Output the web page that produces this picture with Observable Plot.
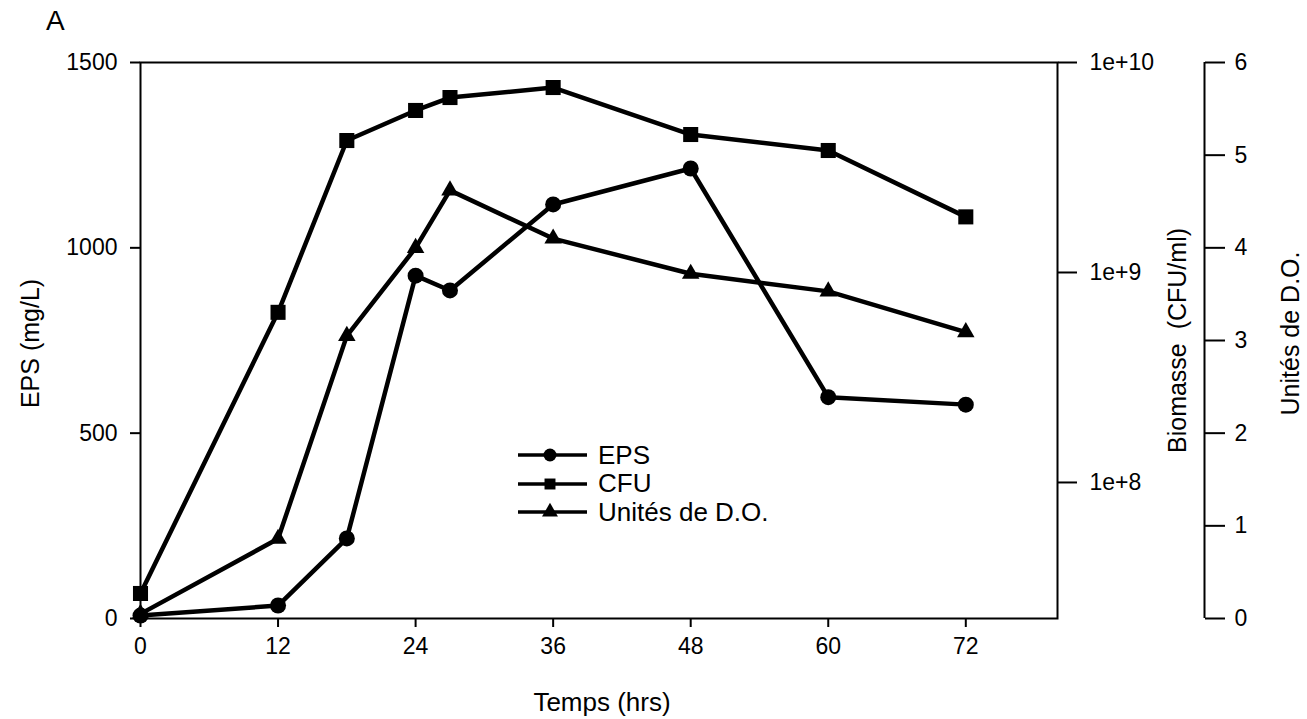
<!DOCTYPE html>
<html><head><meta charset="utf-8">
<script src="https://cdn.jsdelivr.net/npm/d3@7"></script>
<script src="https://cdn.jsdelivr.net/npm/@observablehq/plot@0.6"></script>
<style>
body{margin:0;background:#fff;}
#wrap{position:relative;width:1307px;height:719px;font-family:"Liberation Sans",Arial,Helvetica,sans-serif;color:#000;}
#panel{position:absolute;left:46px;top:5px;font-size:28px;}
#legend{position:absolute;left:518px;top:441px;font-size:26px;}
.row{display:flex;align-items:center;height:28.5px;}
.row span{margin-left:11px;}
</style></head><body><div id="wrap"><div id="panel">A</div><div id="legend"></div></div>
<script>
// ---- data ----
const hours = [0, 12, 18, 24, 27, 36, 48, 60, 72];
const eps   = [8, 35, 216, 925, 885, 1117, 1214, 597, 577];             // mg/L (left axis)
const cfu   = [2.96e7, 6.46e8, 4.25e9, 5.91e9, 6.81e9, 7.6e9, 4.54e9, 3.81e9, 1.84e9]; // CFU/ml (log axis)
const od    = [0.05, 0.86, 3.05, 4.0, 4.62, 4.1, 3.72, 3.53, 3.09];     // D.O. units

const xTicks = [0, 12, 24, 36, 48, 60, 72];
const epsTicks = [0, 500, 1000, 1500];
const cfuTicks = [1e8, 1e9, 1e10];
const cfuTickLabels = ["1e+8", "1e+9", "1e+10"];
const odTicks = [0, 1, 2, 3, 4, 5, 6];

const seriesNames = ["EPS", "CFU", "Unités de D.O."];
const seriesSymbols = ["circle", "square", "triangle"];

const xDomain = [0, 80];
const epsDomain = [0, 1500];
const cfuDomain = [2.25e7, 1e10];
const odDomain = [0, 6];

// secondary scales mapped onto the primary (EPS) y scale
const cfuToY = d3.scaleLog().domain(cfuDomain).range(epsDomain);
const odToY = d3.scaleLinear().domain(odDomain).range(epsDomain);

const rows = hours.map((h, i) => ({h, eps: eps[i], cfu: cfu[i], od: od[i]}));

const cfuLabelMap = new Map(cfuTicks.map((t, i) => [cfuToY(t), cfuTickLabels[i]]));
const odLabelMap = new Map(odTicks.map(t => [odToY(t), String(t)]));

const FS = 23;   // tick labels
const TS = 25;   // axis titles
const chart = Plot.plot({
  width: 1307,
  height: 719,
  marginLeft: 140,
  marginRight: 250,
  marginTop: 62,
  marginBottom: 101,
  style: {fontFamily: '"Liberation Sans", Arial, Helvetica, sans-serif', fontSize: FS + "px", color: "#000", background: "#fff"},
  x: {domain: xDomain},
  y: {domain: epsDomain},
  marks: [
    Plot.frame({stroke: "#000", strokeWidth: 2}),
    Plot.axisX(xTicks, {tickSize: 9, tickPadding: 10, strokeWidth: 2, fontSize: FS, label: null, tickFormat: d3.format("d")}),
    Plot.axisY(epsTicks, {anchor: "left", tickSize: 10, tickPadding: 13, strokeWidth: 2, fontSize: FS, label: null, tickFormat: d3.format("d")}),
    Plot.axisY(cfuTicks.map(t => cfuToY(t)), {anchor: "right", tickSize: 19, tickPadding: 13, strokeWidth: 2, fontSize: FS, label: null, tickFormat: d => cfuLabelMap.get(d)}),
    Plot.ruleX([xDomain[1]], {y1: epsDomain[0], y2: epsDomain[1], dx: 147, stroke: "#000", strokeWidth: 2}),
    Plot.axisY(odTicks.map(t => odToY(t)), {anchor: "right", dx: 147, tickSize: 20, tickPadding: 10, strokeWidth: 2, fontSize: FS, label: null, tickFormat: d => odLabelMap.get(d)}),
    // series
    Plot.line(rows, {x: "h", y: "eps", stroke: "#000", strokeWidth: 4.5}),
    Plot.dot(rows, {x: "h", y: "eps", symbol: "circle", r: 8, fill: "#000", stroke: null}),
    Plot.line(rows, {x: "h", y: d => cfuToY(d.cfu), stroke: "#000", strokeWidth: 4.5}),
    Plot.dot(rows, {x: "h", y: d => cfuToY(d.cfu), symbol: "square", r: 8.5, fill: "#000", stroke: null}),
    Plot.line(rows, {x: "h", y: d => odToY(d.od), stroke: "#000", strokeWidth: 4.5}),
    Plot.dot(rows, {x: "h", y: d => odToY(d.od), symbol: "triangle", r: 6.5, fill: "#000", stroke: null}),
    // axis titles
    Plot.text(["EPS (mg/L)"], {frameAnchor: "left", textAnchor: "middle", rotate: -90, dx: -110, dy: 3, fontSize: TS, fill: "#000"}),
    Plot.text(["Biomasse\u00A0\u00A0(CFU/ml)"], {frameAnchor: "right", textAnchor: "middle", rotate: -90, dx: 120, dy: 0, fontSize: TS, fill: "#000"}),
    Plot.text(["Unités de D.O."], {frameAnchor: "right", textAnchor: "middle", rotate: -90, dx: 233, dy: -7, fontSize: TS, fill: "#000"}),
    Plot.text(["Temps (hrs)"], {frameAnchor: "bottom", textAnchor: "middle", dx: 3, dy: 92, fontSize: TS + 1, fill: "#000"})
  ]
});
document.getElementById("wrap").prepend(chart);
chart.style.position = "absolute";
chart.style.left = "0";
chart.style.top = "0";
document.getElementById("panel").style.zIndex = 2;
document.getElementById("legend").style.zIndex = 2;

// legend
const legend = d3.select("#legend");
seriesNames.forEach((name, i) => {
  const row = legend.append("div").attr("class", "row");
  const svg = row.append("svg").attr("width", 69).attr("height", 20);
  svg.append("line").attr("x1", 0).attr("x2", 69).attr("y1", 10).attr("y2", 10).attr("stroke", "#000").attr("stroke-width", 3.5);
  const sym = {circle: d3.symbolCircle, square: d3.symbolSquare, triangle: d3.symbolTriangle}[seriesSymbols[i]];
  const size = {circle: Math.PI * 6.5 * 6.5, square: 120, triangle: 110}[seriesSymbols[i]];
  svg.append("path").attr("d", d3.symbol(sym, size)()).attr("transform", "translate(32,10)").attr("fill", "#000");
  row.append("span").text(name);
});
</script>
</body></html>
